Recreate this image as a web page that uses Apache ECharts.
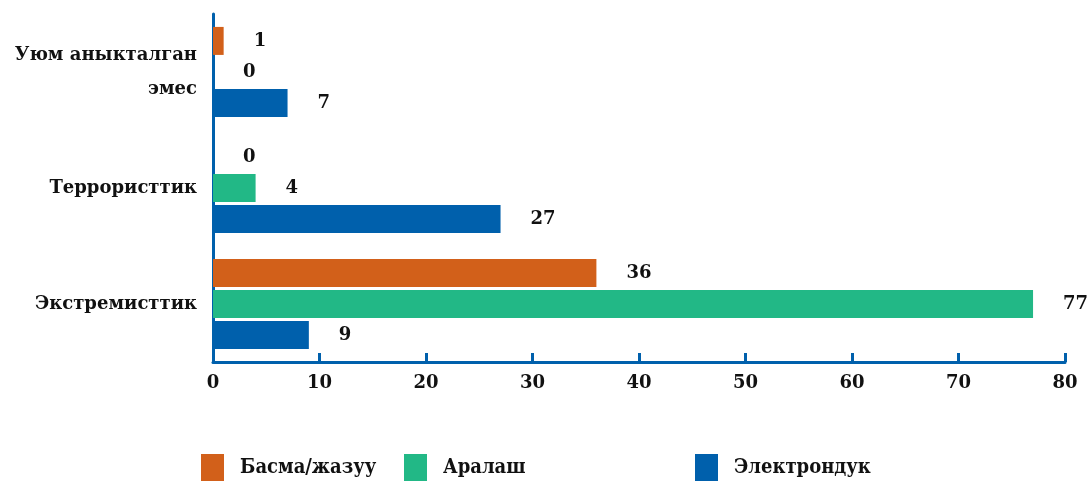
<!DOCTYPE html>
<html><head><meta charset="utf-8">
<script src="https://cdn.jsdelivr.net/npm/echarts@6/dist/echarts.min.js"></script>
<style>html,body{margin:0;padding:0;background:#fff}#c{width:1088px;height:481px}</style>
</head><body><div id="c"></div>
<script>
const categories = ['Экстремисттик', 'Террористтик', 'Уюм аныкталган\nэмес'];
const seriesNames = ['Басма/жазуу', 'Аралаш', 'Электрондук'];
const printValues = [36, 0, 1];
const mixedValues = [77, 4, 0];
const electronicValues = [9, 27, 7];
const xTicks = [0, 10, 20, 30, 40, 50, 60, 70, 80];
const colors = {'Басма/жазуу': '#D2601A', 'Аралаш': '#22B886', 'Электрондук': '#0060AC'};
const FONT = 'DejaVu Serif';
const LFONT = 'DejaVu Serif Condensed';
const TXT = '#111111';

const chart = echarts.init(document.getElementById('c'));
const label = {show: true, position: 'right', distance: 30, color: TXT, fontFamily: FONT, fontWeight: 'bold', fontSize: 18};
function mk(name, data) {
  return {name, type: 'bar', data, barWidth: 28, barGap: '11%', itemStyle: {color: colors[name]}, label};
}
function legend(name, left) {
  return {data: [name], left, top: 454, padding: 0, itemWidth: 23, itemHeight: 27, icon: 'rect',
    textStyle: {fontFamily: LFONT, fontWeight: 'bold', fontSize: 20, color: TXT, padding: [0, 0, 0, 11]}};
}
chart.setOption({
  animation: false,
  grid: {left: 213, right: 23, top: 14, bottom: 119, containLabel: false},
  legend: [legend(seriesNames[0], 201), legend(seriesNames[1], 404), legend(seriesNames[2], 695)],
  xAxis: {type: 'value', min: xTicks[0], max: xTicks[xTicks.length - 1], interval: 10,
    splitLine: {show: false},
    axisLine: {show: true, lineStyle: {color: '#0060AC', width: 3}},
    axisTick: {show: true, inside: true, length: 9, lineStyle: {color: '#0060AC', width: 3}},
    axisLabel: {color: TXT, fontFamily: FONT, fontWeight: 'bold', fontSize: 18, margin: 12}},
  yAxis: {type: 'category', data: categories,
    axisLine: {show: true, lineStyle: {color: '#0060AC', width: 3}},
    axisTick: {show: false},
    axisLabel: {color: TXT, fontFamily: FONT, fontWeight: 'bold', fontSize: 18, margin: 16, align: 'right', lineHeight: 34}},
  series: [mk(seriesNames[0], printValues), mk(seriesNames[1], mixedValues), mk(seriesNames[2], electronicValues)]
});
</script></body></html>
